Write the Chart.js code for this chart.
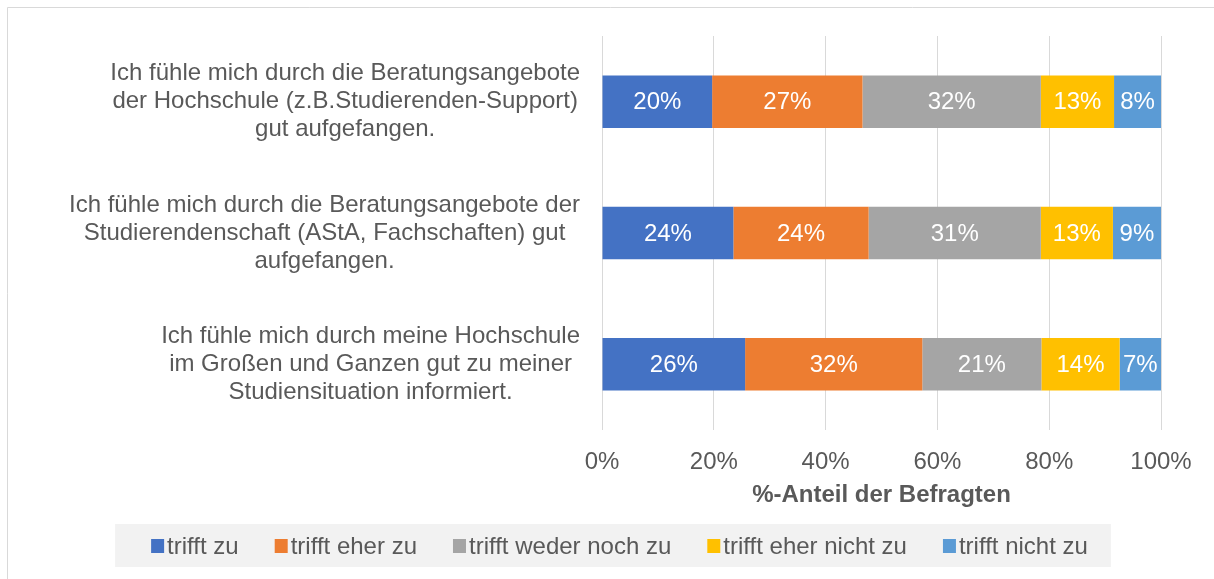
<!DOCTYPE html>
<html>
<head>
<meta charset="utf-8">
<script src="https://cdn.jsdelivr.net/npm/chart.js@4"></script>
<style>
  html, body { margin: 0; padding: 0; background: #fff; }
  #wrap { width: 1214px; height: 579px; position: relative; }
</style>
</head>
<body>
<div id="wrap"><canvas id="barChart" width="1214" height="579"></canvas></div>
<script>
// statements (one per bar, multi-line like in the original)
const statements = [
    ['Ich fühle mich durch die Beratungsangebote', 'der Hochschule (z.B.Studierenden-Support)', 'gut aufgefangen.'],
    ['Ich fühle mich durch die Beratungsangebote der', 'Studierendenschaft (AStA, Fachschaften) gut', 'aufgefangen.'],
    ['Ich fühle mich durch meine Hochschule', 'im Großen und Ganzen gut zu meiner', 'Studiensituation informiert.']
];

const answerLabels = ['trifft zu', 'trifft eher zu', 'trifft weder noch zu', 'trifft eher nicht zu', 'trifft nicht zu'];
const answerColors = ['#4472C4', '#ED7D31', '#A5A5A5', '#FFC000', '#5B9BD5'];

// share in percent per answer, one value per statement
const trifftZu = [19.7, 23.5, 25.6];
const trifftEherZu = [26.9, 24.2, 31.7];
const wederNoch = [31.9, 30.8, 21.3];
const eherNicht = [13.1, 12.9, 14.0];
const trifftNicht = [8.4, 8.6, 7.4];

const xTicks = [0, 20, 40, 60, 80, 100];

const seriesValues = [trifftZu, trifftEherZu, wederNoch, eherNicht, trifftNicht];
const fontFamily = '"Liberation Sans", Arial, sans-serif';
const textColor = '#595959';

const ctx = document.getElementById('barChart').getContext('2d');

// white background + thin frame
const framePlugin = {
    id: 'frame',
    beforeDraw(chart) {
        const c = chart.ctx;
        c.save();
        c.fillStyle = '#fff';
        c.fillRect(0, 0, chart.width, chart.height);
        c.strokeStyle = '#d9d9d9';
        c.lineWidth = 1;
        c.beginPath();
        c.moveTo(7.5, chart.height);
        c.lineTo(7.5, 7.5);
        c.lineTo(chart.width, 7.5);
        c.stroke();
        c.restore();
    }
};

// legend in the Excel look: grey band, small square, text right next to it
const legendPlugin = {
    id: 'excelLegend',
    afterDraw(chart) {
        const c = chart.ctx;
        c.save();
        c.font = '24px ' + fontFamily;
        const box = 13, gap = 3, spacing = 36;
        const widths = chart.data.datasets.map(ds => box + gap + c.measureText(ds.label).width);
        const itemsW = widths.reduce((a, b) => a + b, 0) + spacing * (widths.length - 1);
        const bandW = itemsW + 36 + 23;
        const bandLeft = chart.width / 2 + 6 - bandW / 2;
        const mid = 546;
        c.fillStyle = '#f2f2f2';
        c.fillRect(bandLeft, mid - 22, bandW, 43);
        let x = bandLeft + 36;
        c.textBaseline = 'middle';
        c.textAlign = 'left';
        chart.data.datasets.forEach((ds, i) => {
            c.fillStyle = ds.backgroundColor;
            c.fillRect(x, mid - 7, box, box + 1);
            c.fillStyle = textColor;
            c.fillText(ds.label, x + box + gap, mid + 1);
            x += widths[i] + spacing;
        });
        c.restore();
    }
};

// statement text: block right aligned, lines centered inside the block
const statementPlugin = {
    id: 'statements',
    afterDraw(chart) {
        const c = chart.ctx;
        const yScale = chart.scales.y;
        const lineH = 28;
        c.save();
        c.font = '24px ' + fontFamily;
        c.fillStyle = textColor;
        c.textAlign = 'center';
        c.textBaseline = 'middle';
        statements.forEach((lines, i) => {
            const yMid = yScale.getPixelForTick(i);
            const w = Math.max(...lines.map(l => c.measureText(l).width));
            const xMid = chart.chartArea.left - 22 - w / 2;
            lines.forEach((l, j) => {
                c.fillText(l, xMid, yMid + (j - (lines.length - 1) / 2) * lineH);
            });
        });
        c.restore();
    }
};

// percent labels inside the bar segments
const valueLabelPlugin = {
    id: 'valueLabels',
    afterDatasetsDraw(chart) {
        const c = chart.ctx;
        c.save();
        c.font = '24px ' + fontFamily;
        c.fillStyle = '#fff';
        c.textAlign = 'center';
        c.textBaseline = 'middle';
        chart.data.datasets.forEach((ds, di) => {
            chart.getDatasetMeta(di).data.forEach((bar, i) => {
                c.fillText(Math.round(ds.data[i]) + '%', (bar.x + bar.base) / 2, bar.y + 1);
            });
        });
        c.restore();
    }
};

new Chart(ctx, {
    type: 'bar',
    data: {
        labels: statements,
        datasets: answerLabels.map((label, i) => ({
            label: label,
            data: seriesValues[i],
            backgroundColor: answerColors[i],
            borderWidth: 0,
            barPercentage: 0.4,
            categoryPercentage: 1
        }))
    },
    options: {
        indexAxis: 'y',
        responsive: false,
        animation: false,
        layout: {
            padding: { top: 36, right: 53, bottom: 69, left: 0 }
        },
        scales: {
            x: {
                stacked: true,
                min: 0,
                max: 100,
                afterBuildTicks: scale => {
                    scale.ticks = xTicks.map(v => ({ value: v }));
                },
                afterFit: scale => { scale.height = 80; },
                grid: { color: '#d9d9d9', lineWidth: 1, drawTicks: false },
                border: { display: false },
                ticks: {
                    padding: 18,
                    color: textColor,
                    font: { family: fontFamily, size: 24 },
                    callback: v => v + '%'
                },
                title: {
                    display: true,
                    text: '%-Anteil der Befragten',
                    color: textColor,
                    font: { family: fontFamily, size: 24, weight: 'bold' },
                    padding: { top: 2, bottom: 0 }
                }
            },
            y: {
                stacked: true,
                afterFit: scale => { scale.width = 602; },
                grid: { display: false },
                border: { display: false },
                ticks: { display: false }
            }
        },
        plugins: {
            legend: { display: false },
            tooltip: { enabled: false }
        }
    },
    plugins: [framePlugin, statementPlugin, valueLabelPlugin, legendPlugin]
});
</script>
</body>
</html>
